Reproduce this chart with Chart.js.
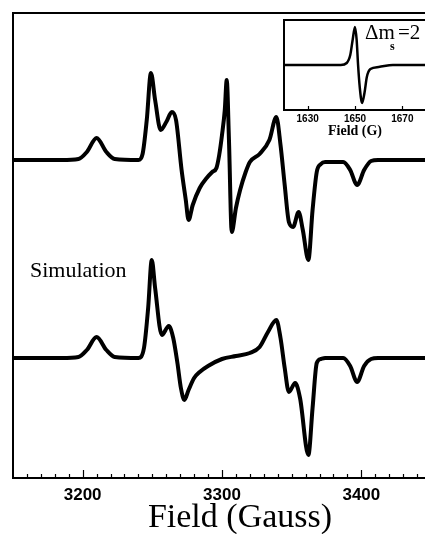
<!DOCTYPE html>
<html>
<head>
<meta charset="utf-8">
<script src="https://cdn.jsdelivr.net/npm/chart.js@4.4.0/dist/chart.umd.min.js"></script>
<style>
    html, body { margin: 0; padding: 0; background: #fff; overflow: hidden; }
    #wrap { position: relative; width: 425px; height: 534px; overflow: hidden; }
    #main { position: absolute; left: 0; top: 0; }
    #inset { position: absolute; left: 270px; top: 10px; }
</style>
</head>
<body>
<div id="wrap">
    <canvas id="main" width="440" height="534"></canvas>
    <canvas id="inset" width="170" height="130"></canvas>
</div>
<script>
// experimental spectrum (top trace)
var expField = [3150, 3185, 3197, 3203, 3210, 3217, 3223, 3240, 3243, 3246, 3249, 3252, 3256, 3260, 3264, 3267,
    3271, 3274, 3276, 3279, 3284, 3289, 3293, 3296, 3298, 3300, 3302, 3303.4, 3305, 3307, 3310, 3313, 3317,
    3320, 3327, 3334, 3339, 3342, 3345, 3348, 3351, 3355, 3358, 3362, 3365, 3368, 3371, 3374, 3387, 3392,
    3397, 3402, 3407, 3412, 3450]
var expSignal = [0, 0, 1, 8, 22, 8, 1, 0, 6, 40, 87, 60, 30, 38, 48, 40,
    -10, -40, -60, -45, -28, -18, -12, -8, 5, 25, 50, 80, 20, -72, -48, -30, -12,
    -2, 6, 20, 43, 15, -25, -62, -67, -52, -70, -100, -50, -12, -4, -2, -2, -10,
    -25, -10, -1, 0, 0]

// simulated spectrum (bottom trace)
var simField = [3150, 3185, 3197, 3203, 3210, 3217, 3223, 3240, 3244, 3247, 3249.6, 3252, 3256.8, 3261.8, 3265,
    3268, 3270.5, 3273, 3276, 3280, 3284, 3290, 3300, 3310, 3320, 3327, 3333, 3339, 3342, 3345, 3348,
    3352.5, 3356, 3362, 3365, 3368, 3371, 3374, 3387, 3392, 3397, 3402, 3407, 3412, 3450]
var simSignal = [0, 0, 1, 8, 21, 8, 1, 0, 10, 50, 98, 70, 23, 32, 20,
    -5, -30, -42, -32, -20, -14, -8, -1, 2, 5, 11, 26, 38, 20, -10, -34,
    -25, -40, -97, -50, -5, -1, 0, 0, -8, -24, -8, -1, 0, 0]

// half-field transition (inset)
var insetField = [1620, 1644, 1646.5, 1648, 1649, 1650, 1650.7, 1651.3, 1652, 1653, 1654, 1655, 1656.5, 1660, 1666, 1680]
var insetSignal = [0, 0, 2, 10, 25, 38, 25, 0, -22, -38, -28, -12, -4, -2, 0, 0]

var xTicks = [3200, 3300, 3400]
var insetTicks = [1630, 1650, 1670]

var expOffset = 318
var simOffset = 120

function toPoints(fields, values, offset) {
    var pts = []
    for (let i = 0; i < fields.length; i++) {
        pts.push({ x: fields[i], y: values[i] + offset })
    }
    return pts
}

const mainFrame = {
    id: 'mainFrame',
    afterDraw(chart) {
        const ctx = chart.ctx
        const a = chart.chartArea
        const x = chart.scales.x
        ctx.save()
        ctx.strokeStyle = '#000'
        ctx.lineWidth = 2
        ctx.beginPath()
        ctx.moveTo(a.left, a.bottom)
        ctx.lineTo(a.left, a.top)
        ctx.lineTo(a.right, a.top)
        ctx.stroke()
        ctx.lineWidth = 1.2
        for (let v = 3160; v < 3450; v += 10) {
            let px = Math.round(x.getPixelForValue(v)) + 0.5
            let len = (v % 100 === 0) ? 8 : 4
            ctx.beginPath()
            ctx.moveTo(px, a.bottom)
            ctx.lineTo(px, a.bottom - len)
            ctx.stroke()
        }
        ctx.fillStyle = '#000'
        ctx.font = '22px "Liberation Serif"'
        ctx.textBaseline = 'alphabetic'
        ctx.fillText('Simulation', 30, 277)
        // axis title, a bit right of the plot centre like the original
        ctx.font = '34px "Liberation Serif"'
        ctx.textAlign = 'center'
        ctx.fillText('Field (Gauss)', 240, 527)
        ctx.restore()
    }
}

const mainChart = new Chart(document.getElementById('main'), {
    type: 'line',
    data: {
        datasets: [{
            label: 'Experiment',
            data: toPoints(expField, expSignal, expOffset),
            borderColor: '#000',
            borderWidth: 4,
            pointRadius: 0,
            cubicInterpolationMode: 'monotone'
        }, {
            label: 'Simulation',
            data: toPoints(simField, simSignal, simOffset),
            borderColor: '#000',
            borderWidth: 4,
            pointRadius: 0,
            cubicInterpolationMode: 'monotone'
        }]
    },
    plugins: [mainFrame],
    options: {
        responsive: false,
        animation: false,
        layout: { padding: { left: 13, top: 13, right: 9, bottom: 0 } },
        plugins: { legend: { display: false }, tooltip: { enabled: false } },
        scales: {
            x: {
                type: 'linear',
                min: 3150,
                max: 3450,
                afterBuildTicks: (s) => { s.ticks = xTicks.map(v => ({ value: v })) },
                afterFit: (s) => { s.height = 56 },
                grid: { display: false, drawTicks: false },
                border: { display: true, color: '#000', width: 2 },
                ticks: {
                    color: '#000',
                    padding: 7,
                    callback: (v) => String(v),
                    font: { family: '"Liberation Sans"', size: 17, weight: 'bold' }
                }
            },
            y: {
                display: false,
                min: 0,
                max: 465
            }
        }
    }
});

const insetFrame = {
    id: 'insetFrame',
    afterDraw(chart) {
        const ctx = chart.ctx
        const a = chart.chartArea
        const x = chart.scales.x
        ctx.save()
        ctx.strokeStyle = '#000'
        ctx.lineWidth = 2
        ctx.beginPath()
        ctx.moveTo(a.left, a.bottom)
        ctx.lineTo(a.left, a.top)
        ctx.lineTo(a.right, a.top)
        ctx.stroke()
        ctx.lineWidth = 1.2
        insetTicks.forEach(v => {
            let px = Math.round(x.getPixelForValue(v)) + 0.5
            ctx.beginPath()
            ctx.moveTo(px, a.bottom)
            ctx.lineTo(px, a.bottom - 4)
            ctx.stroke()
        })
        ctx.fillStyle = '#000'
        ctx.font = '21px "Liberation Serif"'
        ctx.fillText('\u0394m', 95, 29)
        ctx.font = 'bold 12px "Liberation Serif"'
        ctx.fillText('s', 120, 40)
        ctx.font = '21px "Liberation Serif"'
        ctx.fillText('=2', 128, 29)
        ctx.restore()
    }
}

const insetChart = new Chart(document.getElementById('inset'), {
    type: 'line',
    data: {
        datasets: [{
            label: 'Half-field',
            data: toPoints(insetField, insetSignal, 0),
            borderColor: '#000',
            borderWidth: 2.5,
            pointRadius: 0,
            cubicInterpolationMode: 'monotone'
        }]
    },
    plugins: [insetFrame],
    options: {
        responsive: false,
        animation: false,
        layout: { padding: { left: 14, top: 10, right: 14, bottom: 0 } },
        plugins: { legend: { display: false }, tooltip: { enabled: false } },
        scales: {
            x: {
                type: 'linear',
                min: 1620,
                max: 1680,
                afterBuildTicks: (s) => { s.ticks = insetTicks.map(v => ({ value: v })) },
                afterFit: (s) => { s.height = 30 },
                grid: { display: false, drawTicks: false },
                border: { display: true, color: '#000', width: 2 },
                ticks: {
                    color: '#000',
                    padding: 3,
                    callback: (v) => String(v),
                    font: { family: '"Liberation Sans"', size: 10, weight: 'bold' }
                },
                title: {
                    display: true,
                    text: 'Field (G)',
                    color: '#000',
                    padding: 0,
                    font: { family: '"Liberation Serif"', size: 14, weight: 'bold' }
                }
            },
            y: {
                display: false,
                min: -45,
                max: 45
            }
        }
    }
});
</script>
</body>
</html>
